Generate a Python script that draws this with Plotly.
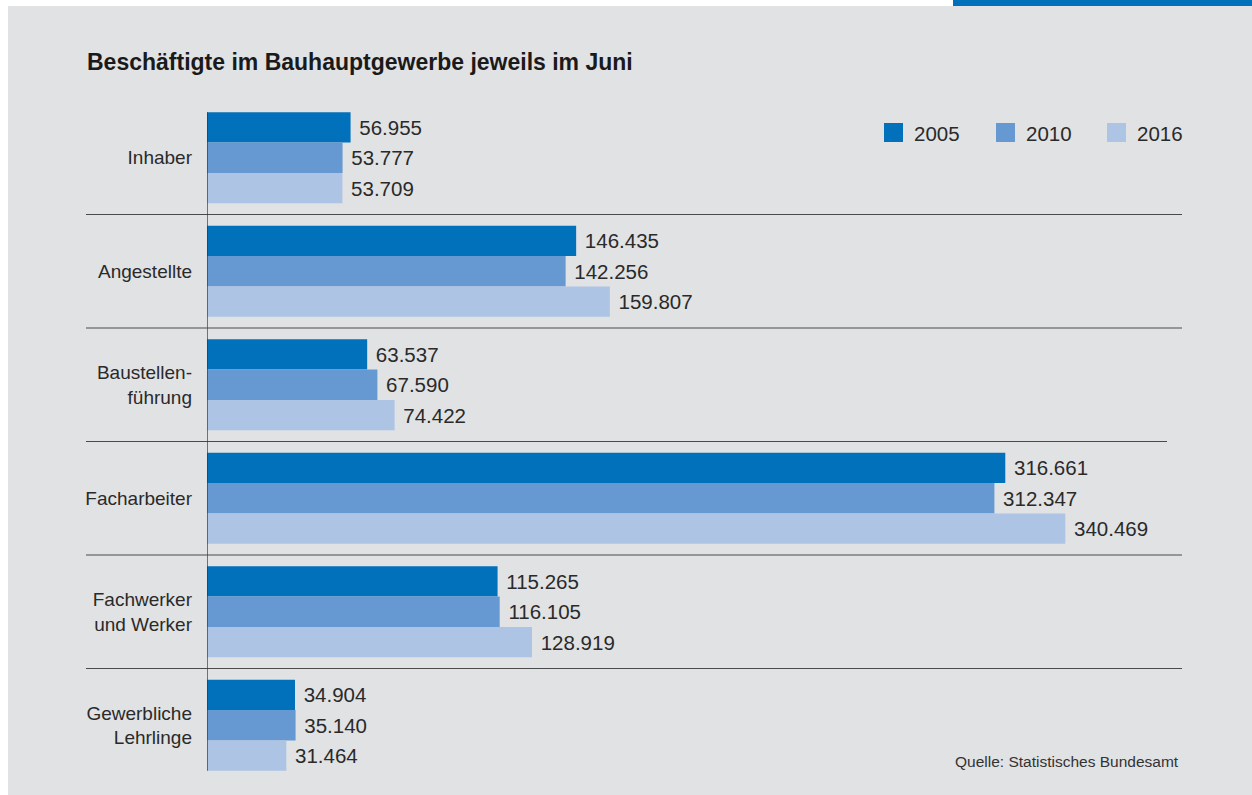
import plotly.graph_objects as go

categories = ["Inhaber", "Angestellte", "Baustellen-<br>führung", "Facharbeiter",
              "Fachwerker<br>und Werker", "Gewerbliche<br>Lehrlinge"]
years = ["2005", "2010", "2016"]
v2005 = [56955, 146435, 63537, 316661, 115265, 34904]
v2010 = [53777, 142256, 67590, 312347, 116105, 35140]
v2016 = [53709, 159807, 74422, 340469, 128919, 31464]
series = [v2005, v2010, v2016]
colors = ["#0071ba", "#6699d1", "#adc4e5"]

title = "Beschäftigte im Bauhauptgewerbe jeweils im Juni"
source = "Quelle: Statistisches Bundesamt"

W, H = 1252, 795
L, R = 207, 1182
T, B = 101, 782
FONT = "Liberation Sans, Arial, sans-serif"


def px_x(p):
    return (p - L) / (R - L)


def px_y(p):
    return (B - p) / (B - T)


fig = go.Figure()
for name, vals, col in zip(years, series, colors):
    fig.add_trace(go.Bar(
        y=categories, x=vals, name=name, orientation="h",
        marker=dict(color=col, line=dict(width=0)),
        texttemplate="\u00a0%{x:,}", textposition="outside",
        textfont=dict(size=20.5, color="#2a2a2a", family=FONT),
        constraintext="none", cliponaxis=False, showlegend=False,
    ))

shapes = []
# background panel and top blue strip
shapes.append(dict(type="rect", xref="paper", yref="paper", x0=px_x(8), x1=px_x(1260),
                   y0=px_y(6), y1=px_y(800), fillcolor="#e1e2e4", line=dict(width=0), layer="below"))
shapes.append(dict(type="rect", xref="paper", yref="paper", x0=px_x(953), x1=px_x(1260),
                   y0=px_y(-5), y1=px_y(6), fillcolor="#0071ba", line=dict(width=0), layer="below"))
# separators
n = len(categories)
sep_end = [1182, 1182, 1167, 1182, 1182]
for i in range(n - 1):
    shapes.append(dict(type="line", xref="paper", yref="y", x0=px_x(86), x1=px_x(sep_end[i]),
                       y0=i + 0.5, y1=i + 0.5, line=dict(color="#4a4a4a", width=1.2)))
# vertical axis line
shapes.append(dict(type="line", xref="x", yref="y", x0=0, x1=0, y0=-0.4, y1=n - 1 + 0.4,
                   line=dict(color="#333333", width=1.3)))

annotations = []
annotations.append(dict(text="<b>" + title + "</b>", xref="paper", yref="paper",
                        x=px_x(85), y=px_y(62), xanchor="left", yanchor="middle",
                        showarrow=False, font=dict(size=23, color="#1a1a1a", family=FONT)))
annotations.append(dict(text=source, xref="paper", yref="paper", x=px_x(1181), y=px_y(761),
                        xanchor="right", yanchor="middle", showarrow=False,
                        font=dict(size=15.5, color="#333333", family=FONT)))
# legend
leg_x = [884, 996, 1107]
for name, col, lx in zip(years, colors, leg_x):
    shapes.append(dict(type="rect", xref="paper", yref="paper", x0=px_x(lx), x1=px_x(lx + 19),
                       y0=px_y(142), y1=px_y(123), fillcolor=col, line=dict(width=0)))
    annotations.append(dict(text=name, xref="paper", yref="paper", x=px_x(lx + 28), y=px_y(133),
                            xanchor="left", yanchor="middle", showarrow=False,
                            font=dict(size=20.5, color="#2a2a2a", family=FONT)))

scale = (1065 - 206.7) / 340469
fig.update_layout(
    width=W, height=H, autosize=False,
    margin=dict(l=L, r=W - R, t=T, b=H - B, pad=0),
    paper_bgcolor="white", plot_bgcolor="rgba(0,0,0,0)",
    barmode="group", bargap=0.2, bargroupgap=0,
    separators=",.",
    shapes=shapes, annotations=annotations,
    font=dict(family=FONT, color="#2a2a2a"),
    xaxis=dict(range=[0, (R - L) / scale], visible=False, fixedrange=True),
    yaxis=dict(autorange="reversed", showgrid=False, zeroline=False, showline=False,
               ticks="", ticklabelstandoff=14, tickfont=dict(size=19, color="#2a2a2a", family=FONT),
               fixedrange=True),
)

fig.write_html("out.html", config={"displayModeBar": False},
               post_script="document.body.style.margin='0';document.body.style.overflow='hidden';")
